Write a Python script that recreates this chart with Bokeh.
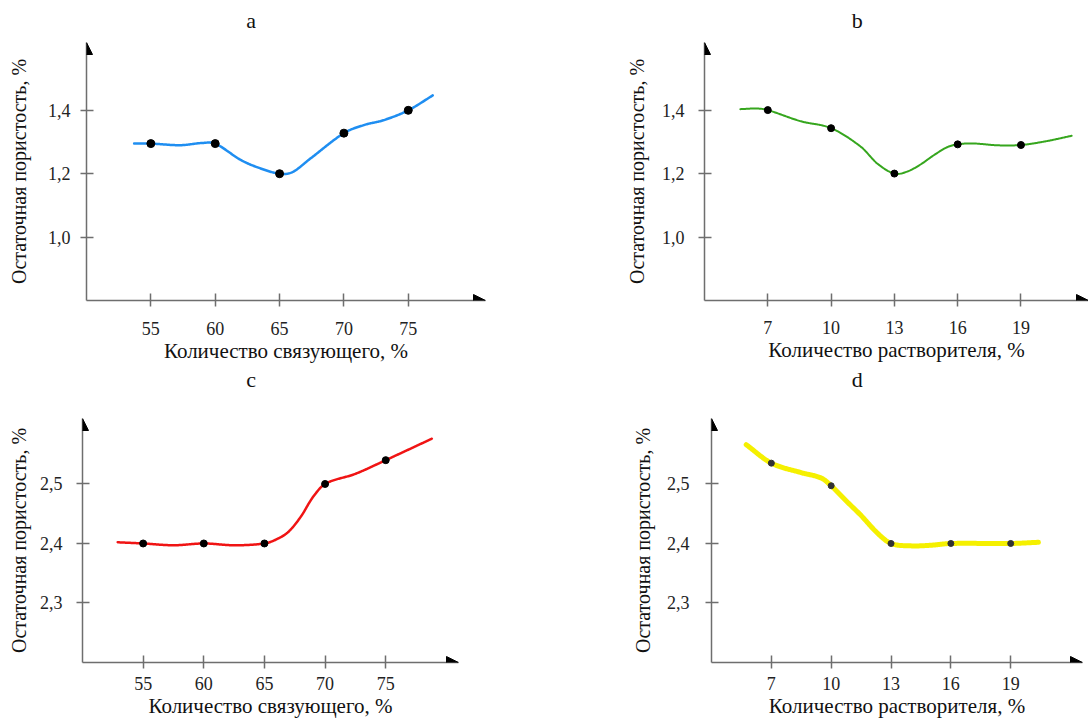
import numpy as np
from bokeh.plotting import figure
from bokeh.layouts import column, row
from bokeh.models import Arrow, NormalHead, FixedTicker, CustomJSTickFormatter, Label, ColumnDataSource
from bokeh.embed import file_html
from bokeh.resources import INLINE

FONT = "Liberation Serif"

# ---------------- data ----------------
binder_pct = [55, 60, 65, 70, 75]
solvent_pct = [7, 10, 13, 16, 19]

por_a = [1.295, 1.295, 1.200, 1.328, 1.400]
por_b = [1.400, 1.343, 1.200, 1.292, 1.290]
por_c = [2.400, 2.400, 2.400, 2.500, 2.540]
por_d = [2.535, 2.497, 2.400, 2.400, 2.400]

# traced points along the drawn curves
curve_a_x = [53.7, 55.0, 57.3, 59.0, 60.0, 62.0, 63.5, 65.0, 66.0, 67.4, 70.0, 71.6, 73.1, 75.0, 76.9]
curve_a_y = [1.295, 1.295, 1.290, 1.297, 1.295, 1.243, 1.217, 1.200, 1.205, 1.248, 1.328, 1.354, 1.369, 1.400, 1.447]

curve_b_x = [5.7, 6.5, 7.0, 8.55, 10.0, 11.4, 12.2, 13.0, 13.6, 14.25, 14.85, 15.5, 16.0, 16.7, 17.9, 19.0, 20.2, 21.4]
curve_b_y = [1.403, 1.405, 1.400, 1.365, 1.343, 1.285, 1.231, 1.200, 1.206, 1.229, 1.257, 1.283, 1.292, 1.295, 1.289, 1.290, 1.302, 1.319]

curve_c_x = [52.9, 55.0, 57.5, 60.0, 62.5, 65.0, 66.0, 67.0, 68.0, 69.0, 70.0, 72.5, 75.0, 78.8]
curve_c_y = [2.402, 2.400, 2.397, 2.400, 2.397, 2.400, 2.407, 2.420, 2.445, 2.478, 2.500, 2.517, 2.540, 2.576]

curve_d_x = [5.74, 7.0, 8.5, 9.5, 10.0, 10.8, 11.5, 12.3, 13.0, 14.0, 15.0, 16.0, 19.0, 20.39]
curve_d_y = [2.566, 2.535, 2.519, 2.510, 2.497, 2.470, 2.447, 2.418, 2.400, 2.396, 2.397, 2.400, 2.400, 2.402]

yticks_ab = [1.0, 1.2, 1.4]
yticks_cd = [2.3, 2.4, 2.5]

panel_titles = ["a", "b", "c", "d"]
xlabel_binder = "Количество связующего, %"
xlabel_solvent = "Количество растворителя, %"
ylabel = "Остаточная пористость, %"


def smooth(xs, ys, n=400):
    xs = np.asarray(xs, float)
    ys = np.asarray(ys, float)
    m = np.empty_like(ys)
    m[1:-1] = (ys[2:] - ys[:-2]) / (xs[2:] - xs[:-2])
    m[0] = (ys[1] - ys[0]) / (xs[1] - xs[0])
    m[-1] = (ys[-1] - ys[-2]) / (xs[-1] - xs[-2])
    xx = np.linspace(xs[0], xs[-1], n)
    i = np.clip(np.searchsorted(xs, xx, side="right") - 1, 0, len(xs) - 2)
    h = xs[i + 1] - xs[i]
    t = (xx - xs[i]) / h
    h00 = 2 * t**3 - 3 * t**2 + 1
    h10 = t**3 - 2 * t**2 + t
    h01 = -2 * t**3 + 3 * t**2
    h11 = t**3 - t**2
    yy = h00 * ys[i] + h10 * h * m[i] + h01 * ys[i + 1] + h11 * h * m[i + 1]
    return xx, yy


def title_row(height, letters, centers, middle_from_top):
    t = figure(width=1088, height=height, x_range=(0, 1088), y_range=(0, height),
               output_backend="svg", toolbar_location=None,
               x_axis_type=None, y_axis_type=None,
               min_border_left=0, min_border_right=0, min_border_top=0, min_border_bottom=0)
    t.outline_line_color = None
    t.grid.visible = False
    for letter, cx in zip(letters, centers):
        t.add_layout(Label(x=cx, y=height - middle_from_top, text=letter,
                           text_align="center", text_baseline="middle",
                           text_font=FONT, text_font_size="22px", text_color="#111111"))
    return t


def panel(height, xr, yr, xticks, yticks, xs, ys, cx, cy, color, lw, xlabel,
          borders, xstand, ystand, xlab_stand, ylab_stand,
          mk_color="black", mk_size=8):
    left, right, top, bottom = borders
    p = figure(width=544, height=height, x_range=xr, y_range=yr,
               output_backend="svg", toolbar_location=None,
               min_border_left=left, min_border_right=right,
               min_border_top=top, min_border_bottom=bottom)
    p.outline_line_color = None
    p.grid.visible = False
    p.background_fill_color = "white"

    for ax in (p.xaxis[0], p.yaxis[0]):
        ax.axis_line_color = "#6e6e6e"
        ax.axis_line_width = 1.5
        ax.major_tick_line_color = "#6e6e6e"
        ax.major_tick_line_width = 1.5
        ax.major_tick_in = 7
        ax.major_tick_out = 6
        ax.minor_tick_line_color = None
        ax.major_label_text_font = FONT
        ax.major_label_text_font_size = "18px"
        ax.major_label_text_color = "#222222"
        ax.axis_label_text_font = FONT
        ax.axis_label_text_font_style = "normal"
        ax.axis_label_text_color = "#111111"
    p.xaxis.axis_label_text_font_size = "21px"
    p.yaxis.axis_label_text_font_size = "20px"

    p.xaxis.ticker = FixedTicker(ticks=xticks)
    p.yaxis.ticker = FixedTicker(ticks=yticks)
    p.yaxis.formatter = CustomJSTickFormatter(code="return tick.toFixed(1).replace('.', ',');")
    p.xaxis.axis_label = xlabel
    p.yaxis.axis_label = ylabel
    p.xaxis.major_label_standoff = xstand
    p.yaxis.major_label_standoff = ystand
    p.xaxis.axis_label_standoff = xlab_stand
    p.yaxis.axis_label_standoff = ylab_stand

    sx, sy = smooth(xs, ys)
    p.line(sx, sy, line_color=color, line_width=lw, line_cap="round", line_join="round")
    src = ColumnDataSource(dict(x=cx, y=cy))
    p.scatter("x", "y", source=src, size=mk_size, fill_color=mk_color, line_color=mk_color)

    # arrow heads at axis ends
    head = dict(size=12, fill_color="black", line_color="black", line_width=1)
    dx = (xr[1] - xr[0]) * 0.02
    dy = (yr[1] - yr[0]) * 0.02
    p.add_layout(Arrow(end=NormalHead(**head), x_start=xr[1] - dx, y_start=yr[0],
                       x_end=xr[1], y_end=yr[0], line_alpha=0))
    p.add_layout(Arrow(end=NormalHead(**head), x_start=xr[0], y_start=yr[1] - dy,
                       x_end=xr[0], y_end=yr[1], line_alpha=0))
    return p


top_titles = title_row(34, panel_titles[:2], [250.7, 856.7], 19.8)
pa = panel(332, (50, 81.0), (0.8, 1.614), binder_pct, yticks_ab,
           curve_a_x, curve_a_y, binder_pct, por_a, "#1f8ef1", 2.5, xlabel_binder,
           (86, 59, 3, 66), 15, 10, 1, 15)
pb = panel(332, (4, 22.2), (0.8, 1.613), solvent_pct, yticks_ab,
           curve_b_x, curve_b_y, solvent_pct, por_b, "#36a61e", 2.0, xlabel_solvent,
           (160, 0, 8, 66), 14, 14, 1, 11, mk_size=7)
bottom_titles = title_row(28, panel_titles[2:], [250.7, 856.7], 13.3)
pc = panel(326, (50, 81.0), (2.2, 2.61), binder_pct, yticks_cd,
           curve_c_x, curve_c_y, binder_pct, por_c, "#f01414", 2.5, xlabel_binder,
           (82, 86, 23, 58), 8, 14, 1, 7, mk_size=7)
pd_ = panel(326, (4, 22.6), (2.2, 2.61), solvent_pct, yticks_cd,
            curve_d_x, curve_d_y, solvent_pct, por_d, "#f5f000", 5, xlabel_solvent,
            (167, 6, 24, 58), 8, 16, 1, 10,
            mk_color="#333333", mk_size=6)

layout = column(top_titles, row(pa, pb), bottom_titles, row(pc, pd_))
open("out.html", "w").write(file_html(layout, INLINE))
